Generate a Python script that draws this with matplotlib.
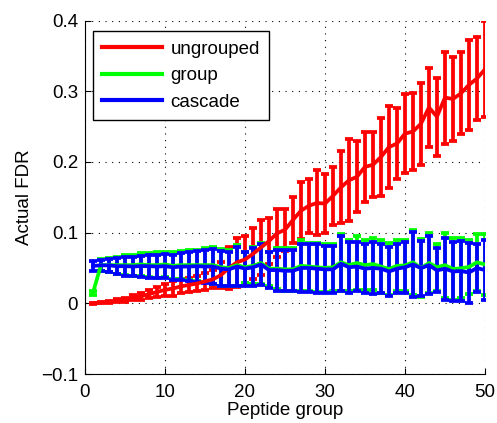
import numpy as np
import matplotlib
matplotlib.use('Agg')
import matplotlib.pyplot as plt

plt.rcParams['font.family'] = ['Liberation Sans', 'DejaVu Sans']

# peptide groups 1..50
groups = list(range(1, 51))

# ungrouped: mean FDR and error
ungrouped_mean = [0.000, 0.001, 0.002, 0.004, 0.005, 0.008, 0.010, 0.013, 0.016, 0.019,
                  0.021, 0.024, 0.026, 0.028, 0.031, 0.034, 0.040, 0.050, 0.058, 0.062,
                  0.070, 0.079, 0.088, 0.099, 0.104, 0.118, 0.131, 0.138, 0.142, 0.141,
                  0.152, 0.164, 0.174, 0.179, 0.193, 0.196, 0.207, 0.221, 0.226, 0.240,
                  0.243, 0.254, 0.277, 0.264, 0.291, 0.289, 0.297, 0.309, 0.318, 0.331]
ungrouped_err = [0.0005, 0.001, 0.0015, 0.002, 0.003, 0.004, 0.005, 0.006, 0.007, 0.009,
                 0.010, 0.010, 0.010, 0.011, 0.012, 0.013, 0.018, 0.030, 0.035, 0.033,
                 0.036, 0.039, 0.032, 0.034, 0.030, 0.032, 0.040, 0.038, 0.046, 0.042,
                 0.041, 0.051, 0.058, 0.050, 0.049, 0.046, 0.055, 0.058, 0.050, 0.056,
                 0.055, 0.058, 0.056, 0.055, 0.065, 0.060, 0.058, 0.064, 0.059, 0.068]

# group
group_mean = [0.015, 0.054, 0.054, 0.054, 0.054, 0.054, 0.055, 0.054, 0.054, 0.055,
              0.053, 0.054, 0.054, 0.054, 0.054, 0.054, 0.051, 0.050, 0.054, 0.051,
              0.053, 0.057, 0.049, 0.049, 0.048, 0.048, 0.053, 0.052, 0.051, 0.050,
              0.051, 0.058, 0.054, 0.057, 0.054, 0.0555, 0.052, 0.0485, 0.053, 0.0535,
              0.058, 0.0497, 0.057, 0.051, 0.054, 0.0485, 0.0495, 0.0515, 0.058, 0.055]
group_err = [0.003, 0.008, 0.010, 0.012, 0.014, 0.015, 0.016, 0.017, 0.018, 0.018,
             0.019, 0.020, 0.021, 0.022, 0.024, 0.026, 0.026, 0.025, 0.029, 0.022,
             0.026, 0.029, 0.024, 0.029, 0.030, 0.030, 0.036, 0.034, 0.035, 0.034,
             0.033, 0.040, 0.036, 0.038, 0.035, 0.0365, 0.037, 0.0365, 0.036, 0.0355,
             0.046, 0.041, 0.042, 0.033, 0.046, 0.0435, 0.0425, 0.038, 0.040, 0.043]

# cascade
cascade_mean = [0.053, 0.0537, 0.0537, 0.0525, 0.0525, 0.052, 0.0527, 0.0525, 0.052, 0.0525,
                0.051, 0.052, 0.052, 0.0525, 0.052, 0.052, 0.049, 0.048, 0.052, 0.049,
                0.051, 0.055, 0.047, 0.047, 0.046, 0.046, 0.050, 0.050, 0.049, 0.048,
                0.048, 0.056, 0.051, 0.052, 0.049, 0.050, 0.049, 0.045, 0.049, 0.051,
                0.055, 0.0497, 0.054, 0.0466, 0.049, 0.045, 0.0457, 0.0435, 0.050, 0.047]
cascade_err = [0.007, 0.0077, 0.0087, 0.0112, 0.0132, 0.014, 0.0148, 0.016, 0.0165, 0.017,
               0.018, 0.019, 0.020, 0.0217, 0.0235, 0.025, 0.025, 0.024, 0.027, 0.024,
               0.027, 0.029, 0.025, 0.029, 0.029, 0.029, 0.034, 0.034, 0.035, 0.033,
               0.033, 0.039, 0.036, 0.035, 0.035, 0.037, 0.035, 0.035, 0.035, 0.036,
               0.046, 0.039, 0.041, 0.031, 0.044, 0.042, 0.043, 0.0425, 0.034, 0.042]

labels = ['ungrouped', 'group', 'cascade']
means = [ungrouped_mean, group_mean, cascade_mean]
errs = [ungrouped_err, group_err, cascade_err]
colors = ['#ff0000', '#00ff00', '#0000ff']

fig = plt.figure(figsize=(4.97, 4.23), dpi=100)
ax = fig.add_axes([0.171, 0.1158, 0.8048, 0.8357])

handles = []
for name, m, e, c in zip(labels, means, errs, colors):
    eb = ax.errorbar(groups, m, yerr=e, color=c, lw=2.7, elinewidth=2.7,
                     capsize=3.2, capthick=2.7)
    eb[0].set_label(name)
    handles.append(eb[0])

ax.set_xlim(0, 50)
ax.set_ylim(-0.1, 0.4)
ax.set_xticks([0, 10, 20, 30, 40, 50])
ax.set_yticks([-0.1, 0, 0.1, 0.2, 0.3, 0.4])
ax.set_yticklabels(['\u22120.1', '0', '0.1', '0.2', '0.3', '0.4'])
ax.tick_params(direction='in', length=4, width=0.8, labelsize=13.5)
ax.tick_params(axis='x', pad=7)
ax.tick_params(axis='y', pad=5)
ax.grid(True, linestyle=(0, (1, 5)), color='black', linewidth=0.8)
ax.spines['top'].set_visible(False)
ax.spines['right'].set_visible(False)
ax.set_xlabel('Peptide group', fontsize=13.5, labelpad=1)
ax.set_ylabel('Actual FDR', fontsize=13.5, labelpad=6)

leg = ax.legend(handles=handles, labels=labels, loc='upper left',
                bbox_to_anchor=(0.019, 0.970), borderaxespad=0, fontsize=13.5,
                handlelength=3.2, handletextpad=0.45, labelspacing=0.5,
                borderpad=0.5, fancybox=False, framealpha=1, edgecolor='black')
leg.get_frame().set_linewidth(1.0)
for line in leg.get_lines():
    line.set_linewidth(3.0)

fig.savefig('out.png', dpi=100)
